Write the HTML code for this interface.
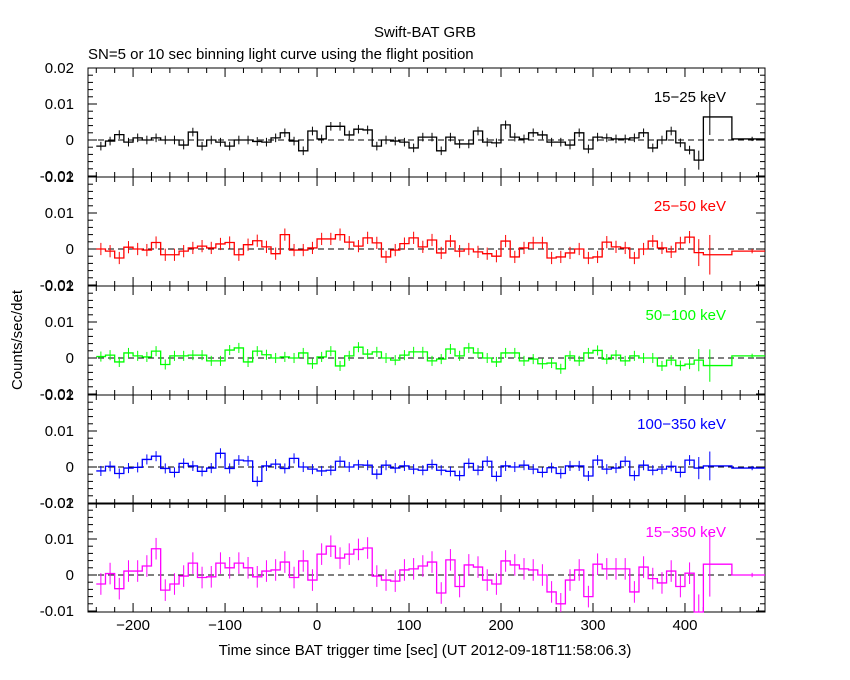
<!DOCTYPE html>
<html><head><meta charset="utf-8"><style>
body{margin:0;background:#fff}
svg{display:block;font-family:"Liberation Sans",sans-serif}
</style></head><body>
<svg id="c" width="850" height="680" xmlns="http://www.w3.org/2000/svg">
<rect width="850" height="680" fill="#fff"/>
<text x="425" y="37" text-anchor="middle" font-size="15">Swift-BAT GRB</text>
<text x="88" y="59" font-size="15">SN=5 or 10 sec binning light curve using the flight position</text>
<text x="425" y="655" text-anchor="middle" font-size="15">Time since BAT trigger time [sec] (UT 2012-09-18T11:58:06.3)</text>
<text transform="translate(22,340) rotate(-90)" text-anchor="middle" font-size="15">Counts/sec/det</text>
<g id="g"></g>
</svg>
<script>
const binStart = -240, binWidth = 10;
const bandLabels = ["15\u221225 keV","25\u221250 keV","50\u2212100 keV","100\u2212350 keV","15\u2212350 keV"];
const bandColors = ["#000","#f00","#0f0","#00f","#f0f"];
const rate15_25 = [-0.0017,-0.0003,0.0015,-0.0006,0.0006,0,0.0006,0,0,-0.0014,0.0022,-0.0017,0,-0.0006,-0.0017,0,0,-0.0004,-0.0006,0.0006,0.002,-0.0003,-0.003,0.0025,0.0003,0.0038,0.0038,0.0014,0.003,0.0028,-0.0017,0,-0.0003,-0.0006,-0.0022,0.0008,0.0008,-0.003,0.0008,-0.0011,-0.0011,0.0025,-0.0006,-0.0008,0.0042,0.0008,0.0003,0.002,0.0014,-0.0006,-0.0006,-0.0014,0.002,-0.0025,0.0008,0.0006,0.0003,0.0003,0.0006,0.002,-0.0022,0,0.0025,-0.0008,-0.0028,-0.0056];
const rate25_50 = [0,-0.0006,-0.0025,0.0005,0,-0.0003,0.0018,-0.0016,-0.0016,-0.0006,0.0003,0.0008,0.0003,0.0014,0.0018,-0.0016,0.0012,0.0023,0.0006,-0.0013,0.004,-0.0003,-0.0003,0.0003,0.0028,0.0028,0.004,0.0019,0.0008,0.0031,0.0017,-0.0022,-0.0003,0.0015,0.0031,0.0006,0.0025,-0.0011,0.0022,-0.0006,0,-0.0008,-0.0013,-0.002,0.0022,-0.0022,0.0003,0.0017,0.0017,-0.0025,-0.0022,-0.0011,0,-0.0025,-0.0022,0.0019,0.0006,0.0003,-0.0025,0,0.0022,0.0003,-0.0008,0.0017,0.0033,-0.001];
const rate50_100 = [0.0004,0.0008,-0.0011,0.0014,0.0006,0.0003,0.0019,-0.0018,0.0006,0.0006,0.0008,0.0008,-0.0008,-0.0008,0.0022,0.0028,-0.0011,0.0019,0.0009,0,0.0003,0,0.0014,-0.0016,0.0003,0.0019,-0.0022,0.0006,0.003,0.0011,0.0017,0,-0.0006,0.0008,0.0017,0.0017,-0.0008,-0.0003,0.0025,0.0006,0.0028,0.0014,0,-0.0011,0.0014,0.0014,-0.0008,-0.0003,-0.0016,-0.0014,-0.003,0.0006,-0.0008,0.0014,0.0021,-0.0003,0.0008,-0.0008,0.0006,0,0,-0.0022,-0.0006,-0.0021,-0.0017,-0.0006];
const rate100_350 = [-0.0011,0.0002,-0.0018,-0.0003,-0.0001,0.0021,0.003,-0.0004,-0.0015,0.001,0.0003,-0.0012,-0.0003,0.0038,-0.0004,0.0019,0.0017,-0.004,0.0003,0.0008,-0.0004,0.0024,0,-0.0006,-0.0011,-0.0009,0.0016,0,0.0006,0.0005,-0.002,0.0005,-0.0003,0.0003,-0.0006,-0.0009,0.0007,-0.0009,-0.0012,-0.0024,0.001,-0.0009,0.0016,-0.0026,0.0003,0,0.0005,-0.0006,-0.0015,-0.0002,-0.0018,0.0003,0.0003,-0.0025,0.0019,-0.0006,-0.0003,0.0016,-0.0024,0.0005,-0.0009,-0.0006,0.0002,-0.0015,0.0019,-0.0003];
const rate15_350 = [-0.0025,0.0004,-0.0038,0.0011,0.0011,0.0025,0.0073,-0.0042,-0.0025,-0.0003,0.0033,-0.0007,-0.0005,0.0033,0.002,0.0033,0.002,-0.0005,0.0011,0.0014,0.0036,-0.0007,0.0039,-0.0014,0.0058,0.008,0.0047,0.0058,0.0071,0.0075,-0.0003,-0.0014,-0.0017,0.0014,0.0017,0.0025,0.0036,-0.005,0.0042,-0.0032,0.0028,0.0022,-0.0014,-0.0025,0.0039,0.0028,0.0017,0.0014,0,-0.0047,-0.008,-0.0014,0.0014,-0.006,0.003,0.0017,0.0017,0.0017,-0.0047,0.0022,-0.001,-0.0022,0.0011,-0.0032,0.0005,-0.012];
const bandErrors = [0.0012,0.0017,0.0014,0.0014,0.003];
const bigBinValue = [0.0064,-0.0016,-0.0021,0.0003,0.003];
const bigBinError = [0.005,0.0055,0.0045,0.004,0.009];
const tailValue = [0.0003,-0.0006,0.0006,-0.0003,0];
const xTicks = [-200,-100,0,100,200,300,400];
const series = [rate15_25,rate25_50,rate50_100,rate100_350,rate15_350];

const X0=88,X1=765,TMIN=-249,TMAX=487;
const sx=t=>X0+(t-TMIN)*(X1-X0)/(TMAX-TMIN);
const tops=[68,177,286,395,503], H=109;
const NS="http://www.w3.org/2000/svg", g=document.getElementById('g');
function el(tag,attrs,parent){const e=document.createElementNS(NS,tag);for(const k in attrs)e.setAttribute(k,attrs[k]);(parent||g).appendChild(e);return e;}
for(let p=0;p<5;p++){
  const T=tops[p], sy=v=>T+72-v*3600, col=bandColors[p];
  const pg=el('g',{});
  
  
  el('rect',{x:X0,y:T,width:X1-X0,height:H,fill:'none',stroke:'#000','stroke-width':1},pg);
  for(let k=-5;k<=10;k++){const v=k*0.002,y=sy(v);if(y<T-0.5||y>T+H+0.5)continue;const L=(k%5==0)?9:5;
    el('line',{x1:X0,x2:X0+L,y1:y,y2:y,stroke:'#000'},pg);el('line',{x1:X1,x2:X1-L,y1:y,y2:y,stroke:'#000'},pg);}
  const yl=[0.02,0.01,0,-0.01];
  yl.forEach(v=>{const y=sy(v);
    const t=el('text',{x:74,y:y+5,'text-anchor':'end','font-size':15},pg);t.textContent=(v===0?'0':v.toFixed(2));
    });
  for(let t=-240;t<=480;t+=20){const x=sx(t),L=(t%100==0)?9:5;
    el('line',{x1:x,x2:x,y1:T+H,y2:T+H-L,stroke:'#000'},pg);el('line',{x1:x,x2:x,y1:T,y2:T+L,stroke:'#000'},pg);}
  el('line',{x1:X0,x2:X1,y1:sy(0),y2:sy(0),stroke:'#000','stroke-dasharray':'6,4'},pg);
  const data=series[p]; let d='';
  data.forEach((v,i)=>{const a=sx(binStart+i*binWidth),b=sx(binStart+(i+1)*binWidth);const y=Math.min(Math.max(sy(v),T),T+H);d+=(i?'L':'M')+a+','+y+'L'+b+','+y;});
  const bs=sx(binStart+data.length*binWidth),be=sx(451);
  const by=sy(bigBinValue[p]);
  d+='L'+bs+','+by+'L'+be+','+by+'L'+be+','+sy(tailValue[p])+'L'+X1+','+sy(tailValue[p]);
  const path=el('path',{d:d,fill:'none',stroke:col,'stroke-width':1.3},pg);
  
  
  data.forEach((v,i)=>{const xm=sx(binStart+(i+0.5)*binWidth);const e=bandErrors[p]*(i==data.length-1?2.2:1);
    el('line',{x1:xm,x2:xm,y1:Math.max(sy(v+e),T),y2:Math.min(sy(v-e),T+H),stroke:col,'stroke-width':1},pg);});
  const xb=sx(427);
  el('line',{x1:xb,x2:xb,y1:Math.max(sy(bigBinValue[p]+bigBinError[p]),T),y2:Math.min(sy(bigBinValue[p]-bigBinError[p]),T+H),stroke:col},pg);
  const xt=sx(473);
  el('line',{x1:xt,x2:xt,y1:sy(tailValue[p]+0.0006),y2:sy(tailValue[p]-0.0006),stroke:col},pg);
  const lab=el('text',{x:726,y:T+34,'text-anchor':'end','font-size':15,fill:col},pg);lab.textContent=bandLabels[p];
  
}
xTicks.forEach(t=>{const tx=el('text',{x:sx(t),y:630,'text-anchor':'middle','font-size':15});tx.textContent=t===0?'0':(t<0?'\u2212'+(-t):t);
  });
</script>
</body></html>
